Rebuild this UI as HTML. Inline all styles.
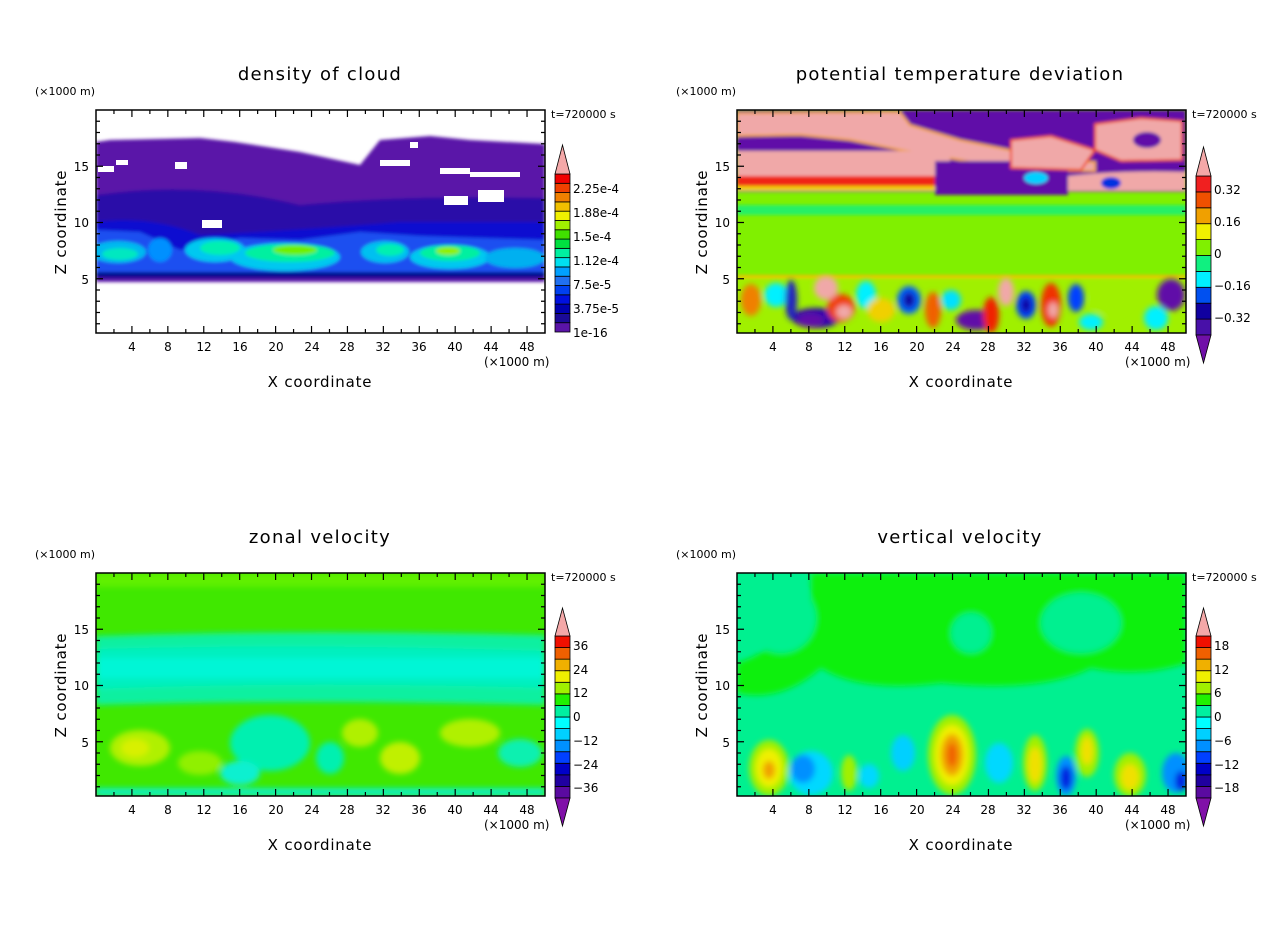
<!DOCTYPE html>
<html><head><meta charset="utf-8"><style>
html,body{margin:0;padding:0;background:#fff;}
svg{display:block;}
text{font-family:"DejaVu Sans","Liberation Sans",sans-serif;fill:#000;}
.t{font-size:18px;text-anchor:middle;letter-spacing:1.3px;}
.l{font-size:15px;text-anchor:middle;letter-spacing:0.8px;}
.k{font-size:12px;}
.s{font-size:11px;}
</style></head><body>
<svg id="s" width="1280" height="926" viewBox="0 0 1280 926" xmlns="http://www.w3.org/2000/svg">
<defs>
<clipPath id="cp"><rect x="96" y="110" width="449" height="223"/></clipPath>
<filter id="b1" x="-10%" y="-10%" width="120%" height="120%"><feGaussianBlur stdDeviation="1.5"/></filter>
<filter id="b3" x="-20%" y="-20%" width="140%" height="140%"><feGaussianBlur stdDeviation="3"/></filter>
</defs>

<!-- Panel 1: density of cloud -->
<g id="p1">
 <g clip-path="url(#cp)">
  <rect x="96" y="110" width="449" height="223" fill="#fff"/>
  <g filter="url(#b1)">
  <path d="M96,142 L110,140 L200,138 L235,142 L300,152 L360,165 L372,150 L380,140 L430,136 L470,140 L545,144 L545,281 L96,281 Z" fill="#5a14a8"/>
  <path d="M96,195 Q200,180 300,205 Q400,195 545,198 L545,280 L96,280 Z" fill="#2a0ca8"/>
  <path d="M96,222 Q150,215 200,235 Q300,230 400,222 L545,222 L545,278 L96,278 Z" fill="#0a10d0"/>
  <path d="M96,230 L140,232 L180,250 L240,238 L300,240 L360,232 L420,236 L545,240 L545,272 L96,272 Z" fill="#1a50f0"/>
  <ellipse cx="118" cy="252" rx="28" ry="11" fill="#00b8f0"/>
  <ellipse cx="160" cy="250" rx="12" ry="12" fill="#0090ff"/>
  <ellipse cx="215" cy="250" rx="30" ry="12" fill="#00c8f0"/>
  <ellipse cx="285" cy="257" rx="55" ry="14" fill="#00c8f0"/>
  <ellipse cx="385" cy="252" rx="24" ry="11" fill="#00c0f0"/>
  <ellipse cx="450" cy="257" rx="40" ry="12" fill="#00c8f0"/>
  <ellipse cx="515" cy="258" rx="30" ry="10" fill="#00b0f0"/>
  <ellipse cx="220" cy="248" rx="20" ry="7" fill="#00f0b0"/>
  <ellipse cx="290" cy="253" rx="45" ry="9" fill="#00f0a0"/>
  <ellipse cx="450" cy="253" rx="30" ry="8" fill="#00f0a0"/>
  <ellipse cx="390" cy="250" rx="14" ry="6" fill="#00f0b0"/>
  <ellipse cx="120" cy="254" rx="18" ry="6" fill="#00e8c0"/>
  <ellipse cx="295" cy="250" rx="22" ry="5" fill="#70f000"/>
  <ellipse cx="448" cy="251" rx="12" ry="4" fill="#90f000"/>
  <rect x="96" y="272" width="449" height="8" fill="#000a90"/>
  <rect x="96" y="278" width="449" height="4" fill="#5a14a8"/>
  </g>
  <g fill="#fff">
   <rect x="98" y="166" width="16" height="6"/><rect x="116" y="160" width="12" height="5"/>
   <rect x="175" y="162" width="12" height="7"/><rect x="202" y="220" width="20" height="8"/>
   <rect x="440" y="168" width="30" height="6"/><rect x="470" y="172" width="50" height="5"/>
   <rect x="444" y="196" width="24" height="9"/><rect x="478" y="190" width="26" height="12"/>
   <rect x="410" y="142" width="8" height="6"/><rect x="380" y="160" width="30" height="6"/>
  </g>
 </g>
</g>

<!-- Panel 2: potential temperature deviation -->
<g transform="translate(641,0)">
 <g clip-path="url(#cp)">
  <rect x="96" y="110" width="449" height="223" fill="#80f000"/>
  <g filter="url(#b1)">
  <rect x="96" y="205" width="449" height="10" fill="#10f080" opacity=".8"/>
  <rect x="96" y="110" width="449" height="82" fill="#6010a8"/>
  <path d="M96,113 L259,112 L269,125 L319,140 L369,150 L404,160 L454,162 L454,171 L369,170 L319,160 L259,150 L209,140 L159,135 L96,136 Z" fill="#f0a8a8" stroke="#f0a000" stroke-width="2"/>
  <path d="M96,151 L309,151 L309,178 L96,178 Z" fill="#f0a8a8"/>
  <path d="M96,176 L309,176 L309,186 L96,186 Z" fill="#f02818"/>
  <path d="M96,186 L300,186 L300,191 L96,191 Z" fill="#f0d000"/>
  <path d="M294,161 L427,161 L427,195 L294,195 Z" fill="#6010a8"/>
  <path d="M370,140 L410,136 L454,150 L440,170 L370,168 Z" fill="#f0a8a8" stroke="#f04000" stroke-width="2"/>
  <path d="M454,124 L500,118 L541,121 L541,160 L480,161 L454,150 Z" fill="#f0a8a8" stroke="#f04000" stroke-width="2"/>
  <ellipse cx="506" cy="140" rx="14" ry="8" fill="#6010a8"/>
  <path d="M427,176 Q480,170 545,172 L545,191 L427,191 Z" fill="#f0a8a8"/>
  <ellipse cx="470" cy="183" rx="10" ry="6" fill="#0030e0"/>
  <ellipse cx="395" cy="178" rx="12" ry="6" fill="#00d0ff"/>
  <rect x="96" y="275" width="449" height="3" fill="#f0c000"/>
  <rect x="96" y="278" width="449" height="55" fill="#a0f000"/>
  </g>
  <g filter="url(#b3)">
   <ellipse cx="110" cy="300" rx="10" ry="16" fill="#f08000"/>
   <ellipse cx="135" cy="295" rx="12" ry="12" fill="#00f0ff"/>
   <ellipse cx="175" cy="318" rx="24" ry="10" fill="#2000b0"/>
   <ellipse cx="170" cy="320" rx="14" ry="7" fill="#6010a8"/>
   <ellipse cx="150" cy="300" rx="6" ry="20" fill="#2020c0"/>
   <ellipse cx="200" cy="308" rx="14" ry="14" fill="#f04000"/>
   <ellipse cx="203" cy="312" rx="8" ry="7" fill="#f0a8a8"/>
   <ellipse cx="185" cy="288" rx="12" ry="12" fill="#f0a8a8"/>
   <ellipse cx="225" cy="295" rx="10" ry="14" fill="#00f0ff"/>
   <ellipse cx="240" cy="310" rx="14" ry="12" fill="#f0d000"/>
   <ellipse cx="268" cy="300" rx="12" ry="14" fill="#0060ff"/>
   <ellipse cx="268" cy="300" rx="6" ry="8" fill="#1000a0"/>
   <ellipse cx="292" cy="310" rx="8" ry="18" fill="#f06000"/>
   <ellipse cx="310" cy="300" rx="10" ry="10" fill="#00e0ff"/>
   <ellipse cx="335" cy="320" rx="20" ry="10" fill="#6010a8"/>
   <ellipse cx="350" cy="315" rx="8" ry="18" fill="#f02000"/>
   <ellipse cx="365" cy="292" rx="8" ry="14" fill="#f0a8a8"/>
   <ellipse cx="385" cy="305" rx="10" ry="14" fill="#0040ff"/>
   <ellipse cx="385" cy="305" rx="5" ry="8" fill="#1000a0"/>
   <ellipse cx="410" cy="305" rx="10" ry="22" fill="#f03000"/>
   <ellipse cx="412" cy="310" rx="5" ry="8" fill="#f0a8a8"/>
   <ellipse cx="435" cy="298" rx="8" ry="14" fill="#0040ff"/>
   <ellipse cx="470" cy="300" rx="20" ry="14" fill="#a0f000"/>
   <ellipse cx="515" cy="318" rx="12" ry="12" fill="#00f0ff"/>
   <ellipse cx="530" cy="295" rx="14" ry="16" fill="#6010a8"/>
   <ellipse cx="450" cy="322" rx="12" ry="8" fill="#00f0ff"/>
  </g>
 </g>
</g>

<!-- Panel 3: zonal velocity -->
<g transform="translate(0,463)">
 <g clip-path="url(#cp)">
  <rect x="96" y="110" width="449" height="223" fill="#40e800"/>
  <g filter="url(#b3)">
  <rect x="96" y="110" width="449" height="14" fill="#60f000"/>
  <path d="M96,173 Q300,166 545,172 L545,242 Q300,236 96,242 Z" fill="#10f0a0"/>
  <path d="M96,186 Q300,180 545,188 L545,225 Q300,218 96,226 Z" fill="#00f0c0"/>
  <rect x="96" y="195" width="449" height="20" fill="#00f8e0" opacity=".7"/>
  <ellipse cx="140" cy="285" rx="30" ry="18" fill="#b0f000"/>
  <ellipse cx="135" cy="285" rx="14" ry="9" fill="#d8f000"/>
  <ellipse cx="200" cy="300" rx="22" ry="12" fill="#90f000"/>
  <ellipse cx="270" cy="280" rx="40" ry="28" fill="#00f0b0"/>
  <ellipse cx="240" cy="310" rx="20" ry="12" fill="#10f0d0"/>
  <ellipse cx="360" cy="270" rx="18" ry="14" fill="#b0f000"/>
  <ellipse cx="400" cy="295" rx="20" ry="16" fill="#c0f000"/>
  <ellipse cx="470" cy="270" rx="30" ry="14" fill="#b0f000"/>
  <ellipse cx="520" cy="290" rx="22" ry="14" fill="#10f0b0"/>
  <ellipse cx="330" cy="295" rx="14" ry="16" fill="#00f0b0"/>
  <rect x="96" y="325" width="449" height="8" fill="#10f0c0"/>
  </g>
 </g>
</g>

<!-- Panel 4: vertical velocity -->
<g transform="translate(641,463)">
 <g clip-path="url(#cp)">
  <rect x="96" y="110" width="449" height="223" fill="#00f090"/>
  <g filter="url(#b3)">
  <path d="M170,110 L545,110 L545,200 Q500,215 450,205 Q400,230 300,220 Q220,230 180,205 Q140,240 96,230 L96,200 Q130,190 170,150 Z" fill="#10f010"/>
  <ellipse cx="140" cy="155" rx="35" ry="35" fill="#00f090"/>
  <ellipse cx="440" cy="160" rx="40" ry="30" fill="#00f090"/>
  <ellipse cx="330" cy="170" rx="20" ry="20" fill="#00f090"/>
  <ellipse cx="128" cy="305" rx="20" ry="28" fill="#a0f000"/>
  <ellipse cx="128" cy="305" rx="13" ry="19" fill="#f0f000"/>
  <ellipse cx="128" cy="307" rx="6" ry="9" fill="#f0a000"/>
  <ellipse cx="170" cy="310" rx="22" ry="22" fill="#00d8ff"/>
  <ellipse cx="162" cy="306" rx="12" ry="14" fill="#0090ff"/>
  <ellipse cx="208" cy="310" rx="8" ry="18" fill="#a0f000"/>
  <ellipse cx="228" cy="313" rx="10" ry="12" fill="#00d8ff"/>
  <ellipse cx="262" cy="290" rx="12" ry="18" fill="#00d0ff"/>
  <ellipse cx="311" cy="292" rx="24" ry="40" fill="#a0f000"/>
  <ellipse cx="311" cy="292" rx="17" ry="30" fill="#f0f000"/>
  <ellipse cx="311" cy="292" rx="11" ry="21" fill="#f0a000"/>
  <ellipse cx="311" cy="292" rx="5" ry="12" fill="#f06000"/>
  <ellipse cx="358" cy="300" rx="14" ry="20" fill="#00d8ff"/>
  <ellipse cx="394" cy="300" rx="12" ry="28" fill="#a0f000"/>
  <ellipse cx="394" cy="302" rx="7" ry="18" fill="#f0e000"/>
  <ellipse cx="425" cy="313" rx="10" ry="20" fill="#0090ff"/>
  <ellipse cx="425" cy="315" rx="6" ry="12" fill="#0020e0"/>
  <ellipse cx="446" cy="290" rx="12" ry="24" fill="#a0f000"/>
  <ellipse cx="446" cy="288" rx="6" ry="14" fill="#f0e000"/>
  <ellipse cx="489" cy="312" rx="16" ry="22" fill="#a0f000"/>
  <ellipse cx="489" cy="314" rx="9" ry="13" fill="#f0e000"/>
  <ellipse cx="535" cy="310" rx="14" ry="20" fill="#0090ff"/>
  <ellipse cx="540" cy="318" rx="6" ry="10" fill="#0020e0"/>
  </g>
 </g>
</g>

<g id="axes"></g>

<g>
 <text class="t" x="320" y="80">density of cloud</text>
 <text class="t" x="960" y="80">potential temperature deviation</text>
 <text class="t" x="320" y="543">zonal velocity</text>
 <text class="t" x="960" y="543">vertical velocity</text>
</g>

<g class="k">
 <text class="k" x="573" y="193">2.25e-4</text>
 <text class="k" x="573" y="217">1.88e-4</text>
 <text class="k" x="573" y="241">1.5e-4</text>
 <text class="k" x="573" y="265">1.12e-4</text>
 <text class="k" x="573" y="289">7.5e-5</text>
 <text class="k" x="573" y="313">3.75e-5</text>
 <text class="k" x="573" y="337">1e-16</text>

 <text class="k" x="1214" y="194">0.32</text>
 <text class="k" x="1214" y="226">0.16</text>
 <text class="k" x="1214" y="258">0</text>
 <text class="k" x="1214" y="290">−0.16</text>
 <text class="k" x="1214" y="322">−0.32</text>

 <text class="k" x="573" y="650">36</text>
 <text class="k" x="573" y="674">24</text>
 <text class="k" x="573" y="697">12</text>
 <text class="k" x="573" y="721">0</text>
 <text class="k" x="573" y="745">−12</text>
 <text class="k" x="573" y="769">−24</text>
 <text class="k" x="573" y="792">−36</text>

 <text class="k" x="1214" y="650">18</text>
 <text class="k" x="1214" y="674">12</text>
 <text class="k" x="1214" y="697">6</text>
 <text class="k" x="1214" y="721">0</text>
 <text class="k" x="1214" y="745">−6</text>
 <text class="k" x="1214" y="769">−12</text>
 <text class="k" x="1214" y="792">−18</text>
</g>

<g>
 <text class="s" x="35" y="95">(×1000 m)</text>
 <text class="s" x="551" y="118" fill="#333">t=720000 s</text>
 <text class="l" transform="translate(66,222) rotate(-90)">Z coordinate</text>
 <text class="l" x="320" y="387">X coordinate</text>
 <text class="k" x="484" y="366">(×1000 m)</text>
 <text class="k" x="89" y="171" text-anchor="end">15</text>
 <text class="k" x="89" y="227" text-anchor="end">10</text>
 <text class="k" x="89" y="284" text-anchor="end">5</text>
</g>
<g>
 <text class="s" x="676" y="95">(×1000 m)</text>
 <text class="s" x="1192" y="118" fill="#333">t=720000 s</text>
 <text class="l" transform="translate(707,222) rotate(-90)">Z coordinate</text>
 <text class="l" x="961" y="387">X coordinate</text>
 <text class="k" x="1125" y="366">(×1000 m)</text>
 <text class="k" x="730" y="171" text-anchor="end">15</text>
 <text class="k" x="730" y="227" text-anchor="end">10</text>
 <text class="k" x="730" y="284" text-anchor="end">5</text>
</g>
<g>
 <text class="s" x="35" y="558">(×1000 m)</text>
 <text class="s" x="551" y="581" fill="#333">t=720000 s</text>
 <text class="l" transform="translate(66,685) rotate(-90)">Z coordinate</text>
 <text class="l" x="320" y="850">X coordinate</text>
 <text class="k" x="484" y="829">(×1000 m)</text>
 <text class="k" x="89" y="634" text-anchor="end">15</text>
 <text class="k" x="89" y="690" text-anchor="end">10</text>
 <text class="k" x="89" y="747" text-anchor="end">5</text>
</g>
<g>
 <text class="s" x="676" y="558">(×1000 m)</text>
 <text class="s" x="1192" y="581" fill="#333">t=720000 s</text>
 <text class="l" transform="translate(707,685) rotate(-90)">Z coordinate</text>
 <text class="l" x="961" y="850">X coordinate</text>
 <text class="k" x="1125" y="829">(×1000 m)</text>
 <text class="k" x="730" y="634" text-anchor="end">15</text>
 <text class="k" x="730" y="690" text-anchor="end">10</text>
 <text class="k" x="730" y="747" text-anchor="end">5</text>
</g>
<g class="k" text-anchor="middle">
 <text x="132" y="351">4</text><text x="168" y="351">8</text><text x="204" y="351">12</text><text x="240" y="351">16</text><text x="276" y="351">20</text><text x="312" y="351">24</text><text x="347" y="351">28</text><text x="383" y="351">32</text><text x="419" y="351">36</text><text x="455" y="351">40</text><text x="491" y="351">44</text><text x="527" y="351">48</text>
 <text x="773" y="351">4</text><text x="809" y="351">8</text><text x="845" y="351">12</text><text x="881" y="351">16</text><text x="917" y="351">20</text><text x="953" y="351">24</text><text x="988" y="351">28</text><text x="1024" y="351">32</text><text x="1060" y="351">36</text><text x="1096" y="351">40</text><text x="1132" y="351">44</text><text x="1168" y="351">48</text>
 <text x="132" y="814">4</text><text x="168" y="814">8</text><text x="204" y="814">12</text><text x="240" y="814">16</text><text x="276" y="814">20</text><text x="312" y="814">24</text><text x="347" y="814">28</text><text x="383" y="814">32</text><text x="419" y="814">36</text><text x="455" y="814">40</text><text x="491" y="814">44</text><text x="527" y="814">48</text>
 <text x="773" y="814">4</text><text x="809" y="814">8</text><text x="845" y="814">12</text><text x="881" y="814">16</text><text x="917" y="814">20</text><text x="953" y="814">24</text><text x="988" y="814">28</text><text x="1024" y="814">32</text><text x="1060" y="814">36</text><text x="1096" y="814">40</text><text x="1132" y="814">44</text><text x="1168" y="814">48</text>
</g>
</svg>
<script>
(function(){
var NS="http://www.w3.org/2000/svg",ax=document.getElementById("axes");
function el(n,a){var e=document.createElementNS(NS,n);for(var k in a)e.setAttribute(k,a[k]);ax.appendChild(e);return e;}
var offs=[[0,0],[641,0],[0,463],[641,463]];
offs.forEach(function(o){
 var ox=o[0],oy=o[1],d="";
 var L=96+ox,R=545+ox,T=110+oy,B=333+oy;
 for(var x=2;x<50;x+=2){var px=L+x*8.98,len=(x%4==0)?7:4;
  d+="M"+px+","+B+"v-"+len+"M"+px+","+T+"v"+len;}
 for(var z=1;z<20;z++){var py=335+oy-z*11.25,len=(z%5==0)?7:4;
  d+="M"+L+","+py+"h"+len+"M"+R+","+py+"h-"+len;}
 el("path",{d:d,stroke:"#000","stroke-width":1.2,fill:"none"});
 el("rect",{x:L,y:T,width:449,height:223,fill:"none",stroke:"#000","stroke-width":1.5});
});
function cbar(x,top,bot,cols,tri,triTop,triBot,botCol){
 var n=cols.length,h=(bot-top)/n;
 for(var i=0;i<n;i++){el("rect",{x:x,y:bot-(i+1)*h,width:15,height:h,fill:cols[i],stroke:"#000","stroke-width":0.8});}
 if(tri){el("path",{d:"M"+x+","+top+"L"+(x+7.5)+","+triTop+"L"+(x+15)+","+top+"Z",fill:"#f4a8a8",stroke:"#000","stroke-width":0.8});}
 if(botCol){el("path",{d:"M"+x+","+bot+"L"+(x+7.5)+","+triBot+"L"+(x+15)+","+bot+"Z",fill:botCol,stroke:"#000","stroke-width":0.8});}
}
var c1=["#5a14a8","#1a0a98","#0000b0","#0010e0","#0040f0","#2070f0","#00a0ff","#00e0f0","#00f0a0","#00e040","#40e000","#a0f000","#f0f000","#f0c000","#f08000","#f04000","#f00000"];
cbar(555,174,332,c1,true,145,0,null);
var c2=["#4810a8","#1000a0","#0050f0","#00f0ff","#10f080","#80f000","#f0f000","#f0a000","#f05000","#f02020"];
cbar(1196,176,335,c2,true,147,363,"#7010a8");
var c3=["#5a0aa0","#2000a0","#0000c8","#0040ff","#0090ff","#00d0ff","#00ffff","#00f0a0","#20f000","#a0f000","#f0f000","#f0b000","#f06000","#f01000"];
cbar(555,636,798,c3,true,608,826,"#8010a8");
cbar(1196,636,798,c3,true,608,826,"#8010a8");
})();
</script>
</body></html>
